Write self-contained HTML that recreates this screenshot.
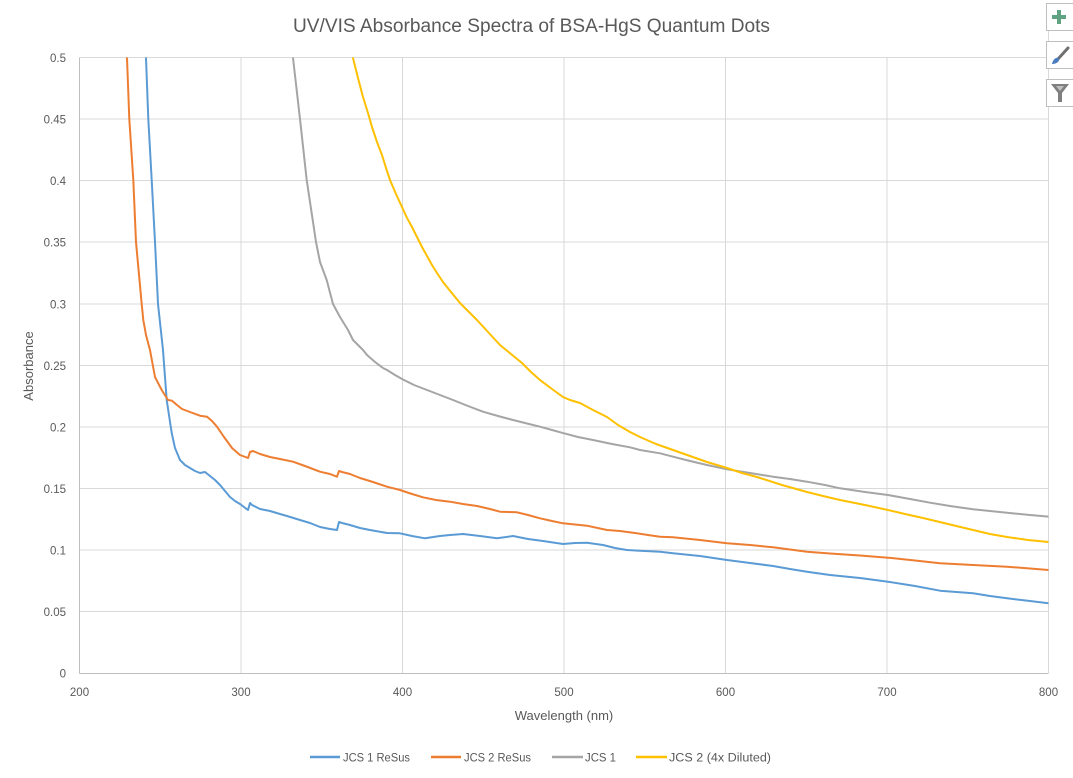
<!DOCTYPE html>
<html>
<head>
<meta charset="utf-8">
<style>
  html,body{margin:0;padding:0;background:#fff;}
  svg{display:block;}
  text{font-family:"Liberation Sans",sans-serif;fill:#595959;}
</style>
</head>
<body>
<svg width="1073" height="778" viewBox="0 0 1073 778" xmlns="http://www.w3.org/2000/svg">
  <rect x="0" y="0" width="1073" height="778" fill="#fff"/>
  <!-- title -->
  <text x="293" y="32" font-size="19" textLength="477" lengthAdjust="spacingAndGlyphs">UV/VIS Absorbance Spectra of BSA-HgS Quantum Dots</text>

  <!-- gridlines -->
  <g stroke="#D9D9D9" stroke-width="1">
    <line x1="79.5" y1="57.5" x2="1048.5" y2="57.5"/>
    <line x1="79.5" y1="119" x2="1048.5" y2="119"/>
    <line x1="79.5" y1="180.5" x2="1048.5" y2="180.5"/>
    <line x1="79.5" y1="242" x2="1048.5" y2="242"/>
    <line x1="79.5" y1="304" x2="1048.5" y2="304"/>
    <line x1="79.5" y1="365.5" x2="1048.5" y2="365.5"/>
    <line x1="79.5" y1="427" x2="1048.5" y2="427"/>
    <line x1="79.5" y1="488.5" x2="1048.5" y2="488.5"/>
    <line x1="79.5" y1="550" x2="1048.5" y2="550"/>
    <line x1="79.5" y1="611.5" x2="1048.5" y2="611.5"/>
    <line x1="241" y1="57.5" x2="241" y2="673"/>
    <line x1="402.5" y1="57.5" x2="402.5" y2="673"/>
    <line x1="564" y1="57.5" x2="564" y2="673"/>
    <line x1="725.5" y1="57.5" x2="725.5" y2="673"/>
    <line x1="887" y1="57.5" x2="887" y2="673"/>
    <line x1="1048.5" y1="30" x2="1048.5" y2="673"/>
  </g>
  <g stroke="#BFBFBF" stroke-width="1">
    <line x1="79.5" y1="57.5" x2="79.5" y2="673.5"/>
    <line x1="79.5" y1="673.5" x2="1048.5" y2="673.5"/>
  </g>

  <!-- y tick labels -->
  <g font-size="11.5" text-anchor="end">
    <text x="66" y="62">0.5</text>
    <text x="66" y="123.5">0.45</text>
    <text x="66" y="185">0.4</text>
    <text x="66" y="246.5">0.35</text>
    <text x="66" y="308.5">0.3</text>
    <text x="66" y="370">0.25</text>
    <text x="66" y="431.5">0.2</text>
    <text x="66" y="493">0.15</text>
    <text x="66" y="554.5">0.1</text>
    <text x="66" y="616">0.05</text>
    <text x="66" y="677.5">0</text>
  </g>
  <!-- x tick labels -->
  <g font-size="11.5" text-anchor="middle">
    <text x="79.5" y="696">200</text>
    <text x="241" y="696">300</text>
    <text x="402.5" y="696">400</text>
    <text x="564" y="696">500</text>
    <text x="725.5" y="696">600</text>
    <text x="887" y="696">700</text>
    <text x="1048.5" y="696">800</text>
  </g>
  <!-- axis titles -->
  <text x="564" y="720" font-size="13" text-anchor="middle">Wavelength (nm)</text>
  <text x="0" y="0" font-size="13" text-anchor="middle" transform="translate(33,366) rotate(-90)">Absorbance</text>

  <defs>
    <clipPath id="plot"><rect x="79.5" y="57.5" width="969" height="616"/></clipPath>
  </defs>
  <g clip-path="url(#plot)" fill="none" stroke-width="2" stroke-linejoin="round" stroke-linecap="round">
    <!-- JCS 1 ReSus -->
    <polyline stroke="#5B9BD5" points="145.5,50 146,58 148.3,119 151.7,180 155,242 158,304 163,350 166.7,400 171.7,433 175,448 180,460 185,465 190,468 195,471 200,473 205,472 210,476 215,480 220,485 225,491 230,497 235,501 240,504 244,507 248,510 250,503 252,505 256,507 260,509 270,511 280,514 287,516 300,520 310,523 320,527 330,529 337,530 339,522 342,523 350,525 360,528 370,530 387,533 400,533.3 412,536 425,538.3 440,536 450,535 463,534 480,536 497,538.3 513,536 528,539 543,541 563,544 575,543 587,542.7 603,545 615,548 627,550 645,551 660,551.7 673,553.3 700,556 727,560 750,563 773,566 790,569 807,571.7 830,575 860,578 888,581.7 915,586 940,590.7 973,593.3 990,596 1007,598.3 1030,601 1049,603.3"/>
    <!-- JCS 2 ReSus -->
    <polyline stroke="#ED7D31" points="126.8,50 127,58 129.3,119 133.3,180 136,242 141.7,304 143.3,320 146,335 150,350 155,377 161.7,390 168,400 172,400.7 177,405 182,409 190,412 200,415.7 207,416.7 212,421 217,426.7 224,437 232,448 240,455 248,458 250,452 253,451 260,454 270,457 280,459 293,461.7 305,466 320,471.7 330,474 337,476.7 339,471 342,472 350,474 360,478 373,482 387,486.7 400,490 412,494 423,497.3 436,500 450,501.7 463,504 477,506 490,509 500,511.7 517,512.3 528,515 540,518.3 552,521 563,523.3 575,524.5 587,525.7 607,530 620,531 633,532.7 648,535 660,536.7 673,537.3 700,540 727,543.3 750,545 773,547.3 790,549.5 807,551.7 830,553.5 860,555.5 888,557.7 915,560.5 940,563.3 973,565 1007,566.7 1030,568.5 1049,570"/>
    <!-- JCS 1 -->
    <polyline stroke="#A5A5A5" points="292,50 293,58 300,119 306.7,180 316,242 320,262 326.7,280 333,304 340,317 348,330 353,340 358,345 363,350 367,355 375,362 383,368 387,370 395,375 402,379 414,385 427,390 440,395 453,400 468,406 483,411.7 498,416 513,420 527,423.5 540,426.7 552,430 564,433.3 578,437 593,440 612,444 630,447.3 640,450 660,453.3 673,456.7 690,461 707,465 727,469.3 750,473 773,476.7 790,479 807,481.7 825,485 840,488.3 865,492 888,495 910,499 930,502.7 950,506 973,509.3 990,511 1007,512.7 1030,515 1049,516.7"/>
    <!-- JCS 2 (4x Diluted) -->
    <polyline stroke="#FFC000" points="351,50 353,58 358,78 363,97 368,113 372,127 377,142 382,155 386,168 390,180 396,194 402,207 407,218 412,227 417,237 422,247 427,256 432,265 437,273 443,282 451,292 460,303 468,311 477,320 488,332 500,345 511,354 522,363 531,372 540,380 552,389 563,397 570,400 580,403 593,410 607,417 618,425 630,432 640,437 656,444 673,450 690,456 707,462 727,468 742,473 757,477 782,485 807,492 823,496 840,500 865,505 888,510 905,514 923,518 948,524 973,530 990,534 1007,537 1028,540 1049,542"/>
  </g>

  <!-- legend -->
  <g stroke-width="2.5">
    <line x1="310" y1="757" x2="340" y2="757" stroke="#5B9BD5"/>
    <line x1="431" y1="757" x2="461" y2="757" stroke="#ED7D31"/>
    <line x1="552" y1="757" x2="583" y2="757" stroke="#A5A5A5"/>
    <line x1="636" y1="757" x2="667" y2="757" stroke="#FFC000"/>
  </g>
  <g font-size="11.5">
    <text x="343" y="761.5" textLength="67" lengthAdjust="spacingAndGlyphs">JCS 1 ReSus</text>
    <text x="464" y="761.5" textLength="67" lengthAdjust="spacingAndGlyphs">JCS 2 ReSus</text>
    <text x="585" y="761.5" textLength="31" lengthAdjust="spacingAndGlyphs">JCS 1</text>
    <text x="669" y="761.5" textLength="102" lengthAdjust="spacingAndGlyphs">JCS 2 (4x Diluted)</text>
  </g>

  <!-- side buttons -->
  <g fill="#fff" stroke="#BFBFBF" stroke-width="1">
    <rect x="1046.5" y="3.5" width="30" height="27"/>
    <rect x="1046.5" y="41.5" width="30" height="27"/>
    <rect x="1046.5" y="79.5" width="30" height="27"/>
  </g>
  <!-- plus -->
  <g fill="#5FA383">
    <rect x="1052" y="15" width="14" height="4"/>
    <rect x="1057" y="10" width="4" height="14"/>
  </g>
  <!-- brush -->
  <g>
    <line x1="1058" y1="59" x2="1068" y2="48" stroke="#707070" stroke-width="3" stroke-linecap="round"/>
    <path d="M1052,64 C1053,59 1056,57 1059,58 C1060,61 1057,64 1052,64 Z" fill="#4A7CC0"/>
  </g>
  <!-- funnel -->
  <path d="M1051,84 L1069,84 L1062,93 L1062,102 L1058,102 L1058,93 Z" fill="#7F7F7F"/>
  <path d="M1056,86 L1064,86 L1060,91 Z" fill="#BFBFBF"/>
</svg>
</body>
</html>
